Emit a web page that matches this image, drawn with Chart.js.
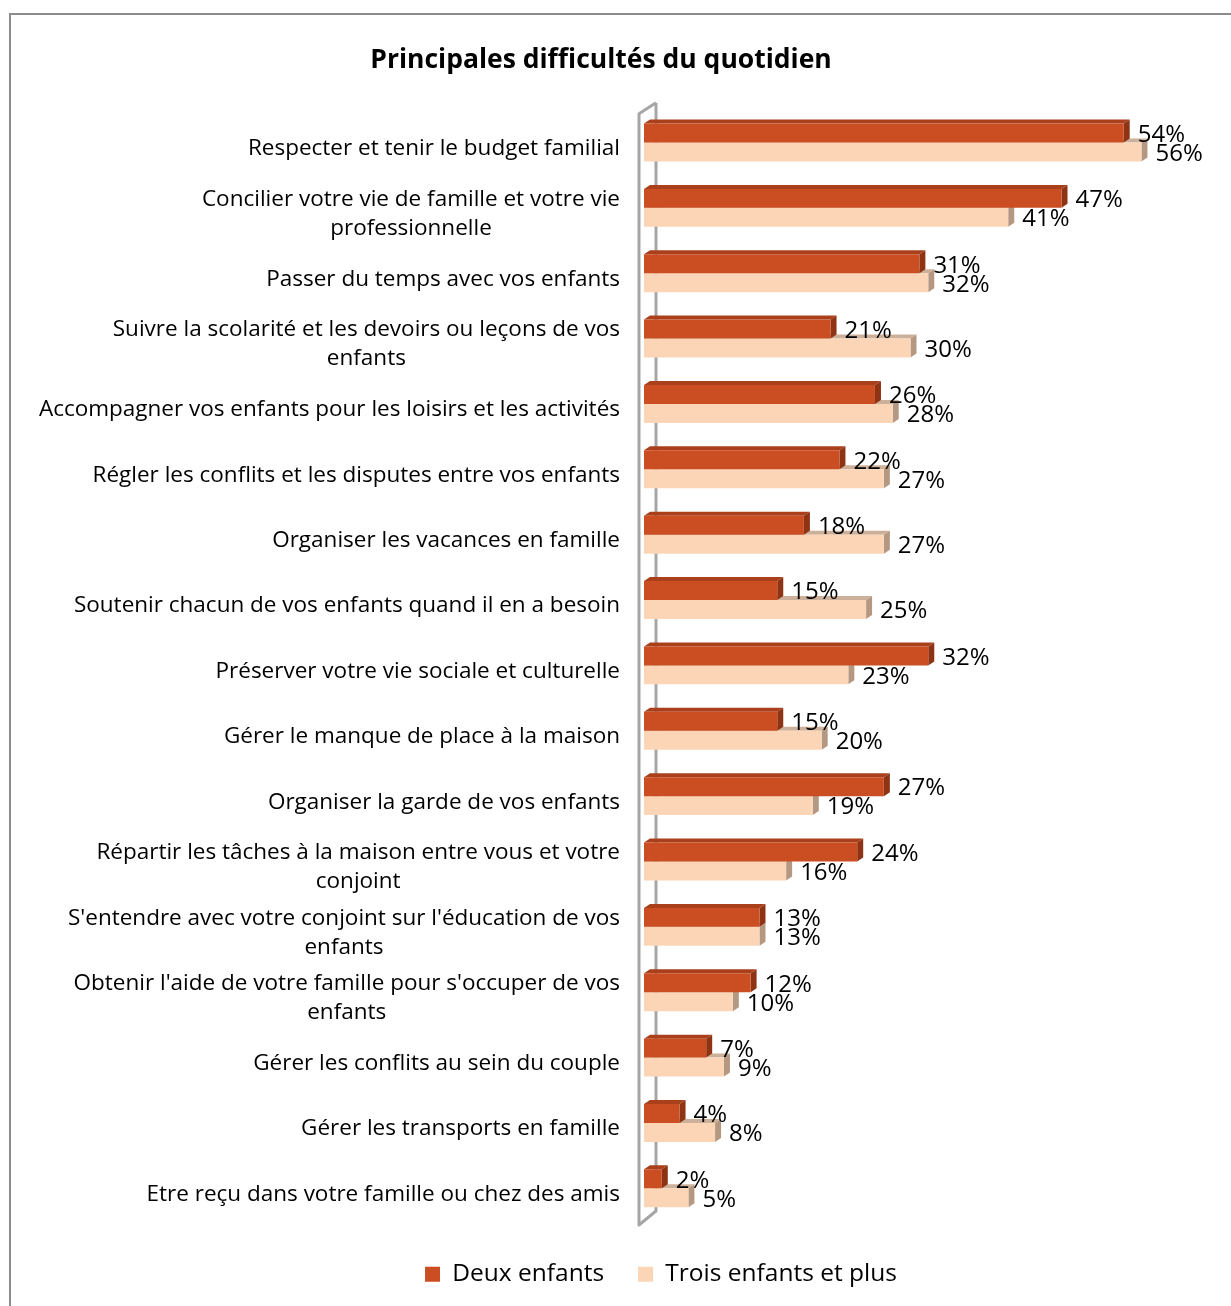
<!DOCTYPE html>
<html lang="fr">
<head>
<meta charset="utf-8">
<title>Principales difficultés du quotidien</title>
<script src="https://cdn.jsdelivr.net/npm/chart.js@4.4.1/dist/chart.umd.min.js"></script>
<style>
  html, body { margin: 0; padding: 0; background: #ffffff; }
  #wrap { position: relative; width: 1231px; height: 1306px; overflow: hidden; }
  #frame { position: absolute; left: 9px; top: 13px; right: -10px; bottom: -10px;
           border-left: 2px solid #8c8c8c; border-top: 2px solid #8c8c8c; }
  canvas { position: absolute; left: 0; top: 0; }
</style>
</head>
<body>
<div id="wrap">
  <div id="frame"></div>
  <canvas id="chart" width="1231" height="1306"></canvas>
</div>
<script>
const chartTitle = 'Principales difficultés du quotidien';

const categories = [
  'Respecter et tenir le budget familial',
  ['Concilier votre vie de famille et votre vie', 'professionnelle'],
  'Passer du temps avec vos enfants',
  ['Suivre la scolarité et les devoirs ou leçons de vos', 'enfants'],
  'Accompagner vos enfants pour les loisirs et les activités',
  'Régler les conflits et les disputes entre vos enfants',
  'Organiser les vacances en famille',
  'Soutenir chacun de vos enfants quand il en a besoin',
  'Préserver votre vie sociale et culturelle',
  'Gérer le manque de place à la maison',
  'Organiser la garde de vos enfants',
  ['Répartir les tâches à la maison entre vous et votre', 'conjoint'],
  ["S'entendre avec votre conjoint sur l'éducation de vos", 'enfants'],
  ["Obtenir l'aide de votre famille pour s'occuper de vos", 'enfants'],
  'Gérer les conflits au sein du couple',
  'Gérer les transports en famille',
  'Etre reçu dans votre famille ou chez des amis'
];

const seriesNames = ['Deux enfants', 'Trois enfants et plus'];
const deuxEnfants = [54, 47, 31, 21, 26, 22, 18, 15, 32, 15, 27, 24, 13, 12, 7, 4, 2];
const troisEnfantsEtPlus = [56, 41, 32, 30, 28, 27, 27, 25, 23, 20, 19, 16, 13, 10, 9, 8, 5];

const FONT = '"Open Sans", "Noto Sans", sans-serif';
const FRONT = ['#cb4e23', '#fbd5b5'];
const TOP_FACE = ['#a9401b', '#cdb09a'];
const SIDE_FACE = ['#8e3414', '#b59882'];
const DEPTH_X = 6, DEPTH_Y = -4;

// Back wall of the 3D frame on the value axis side.
const wallPlugin = {
  id: 'wall',
  beforeDatasetsDraw(chart) {
    const { ctx, chartArea: a } = chart;
    ctx.save();
    ctx.strokeStyle = '#a6a6a6';
    ctx.lineWidth = 3;
    ctx.lineJoin = 'round';
    ctx.beginPath();
    ctx.moveTo(a.left + 12, a.top - 7);
    ctx.lineTo(a.left + 12, a.bottom - 10);
    ctx.lineTo(a.left - 5, a.bottom + 4);
    ctx.lineTo(a.left - 5, a.top + 4);
    ctx.lineTo(a.left + 12, a.top - 7);
    ctx.stroke();
    ctx.restore();
  }
};

// Top and side faces that give each bar its depth.
const depthPlugin = {
  id: 'depth',
  beforeDatasetsDraw(chart) {
    const { ctx } = chart;
    ctx.save();
    for (let d = chart.data.datasets.length - 1; d >= 0; d--) {
      const meta = chart.getDatasetMeta(d);
      meta.data.forEach(bar => {
        const { x, y, base, height } = bar.getProps(['x', 'y', 'base', 'height'], true);
        const top = y - height / 2, bottom = y + height / 2;
        ctx.fillStyle = TOP_FACE[d];
        ctx.beginPath();
        ctx.moveTo(base, top);
        ctx.lineTo(base + DEPTH_X, top + DEPTH_Y);
        ctx.lineTo(x + DEPTH_X, top + DEPTH_Y);
        ctx.lineTo(x, top);
        ctx.closePath();
        ctx.fill();
        ctx.fillStyle = SIDE_FACE[d];
        ctx.beginPath();
        ctx.moveTo(x, top);
        ctx.lineTo(x + DEPTH_X, top + DEPTH_Y);
        ctx.lineTo(x + DEPTH_X, bottom + DEPTH_Y);
        ctx.lineTo(x, bottom);
        ctx.closePath();
        ctx.fill();
      });
    }
    ctx.restore();
  }
};

// Percentage labels next to each bar.
const valueLabelPlugin = {
  id: 'valueLabels',
  afterDatasetsDraw(chart) {
    const { ctx } = chart;
    ctx.save();
    ctx.font = '24px ' + FONT;
    ctx.fillStyle = '#000000';
    ctx.textAlign = 'left';
    ctx.textBaseline = 'middle';
    chart.data.datasets.forEach((ds, d) => {
      chart.getDatasetMeta(d).data.forEach((bar, i) => {
        ctx.fillText(ds.data[i] + '%', bar.x + 14, bar.y + 2);
      });
    });
    ctx.restore();
  }
};

// Category labels: right-aligned blocks whose lines are centred on each other.
const categoryLabelPlugin = {
  id: 'categoryLabels',
  afterDraw(chart) {
    const { ctx } = chart;
    const yScale = chart.scales.y;
    const right = chart.chartArea.left - 24;
    const lineH = 29;
    ctx.save();
    ctx.font = '22.5px ' + FONT;
    ctx.fillStyle = '#000000';
    ctx.textAlign = 'center';
    ctx.textBaseline = 'middle';
    chart.data.labels.forEach((lab, i) => {
      const lines = Array.isArray(lab) ? lab : [lab];
      const w = Math.max(...lines.map(l => ctx.measureText(l).width));
      const cx = right - w / 2;
      const cy = yScale.getPixelForTick(i) + 6;
      lines.forEach((l, j) => {
        ctx.fillText(l, cx, cy + (j - (lines.length - 1) / 2) * lineH);
      });
    });
    ctx.restore();
  }
};

// Place the legend block right of the page centre, a little lower.
const legendShiftPlugin = {
  id: 'legendShift',
  afterLayout(chart) {
    const lg = chart.legend;
    if (lg) {
      lg.left += 60;
      lg.right += 60;
      lg.top += 7;
      lg.bottom += 7;
    }
  }
};

new Chart(document.getElementById('chart'), {
  type: 'bar',
  data: {
    labels: categories,
    datasets: [
      { label: seriesNames[0], data: deuxEnfants, backgroundColor: FRONT[0], borderWidth: 0 },
      { label: seriesNames[1], data: troisEnfantsEtPlus, backgroundColor: FRONT[1], borderWidth: 0 }
    ]
  },
  options: {
    indexAxis: 'y',
    responsive: false,
    animation: false,
    events: [],
    layout: { padding: { left: 25, right: 54, top: 0, bottom: 16.5 } },
    datasets: { bar: { categoryPercentage: 0.58, barPercentage: 1.0 } },
    scales: {
      x: {
        display: false,
        min: 0,
        max: 60
      },
      y: {
        grid: { display: false },
        border: { display: false },
        ticks: { display: false },
        afterFit(scale) { scale.width = 644 - 25; }
      }
    },
    plugins: {
      tooltip: { enabled: false },
      title: {
        display: true,
        text: chartTitle,
        color: '#000000',
        font: { family: FONT, size: 26.5, weight: 'bold', lineHeight: 1.2 },
        padding: { top: 45, bottom: 33 }
      },
      legend: {
        display: true,
        position: 'bottom',
        labels: {
          color: '#000000',
          font: { family: FONT, size: 24.5 },
          boxWidth: 15,
          boxHeight: 15,
          padding: 34
        }
      }
    }
  },
  plugins: [wallPlugin, depthPlugin, valueLabelPlugin, categoryLabelPlugin, legendShiftPlugin]
});
</script>
</body>
</html>
